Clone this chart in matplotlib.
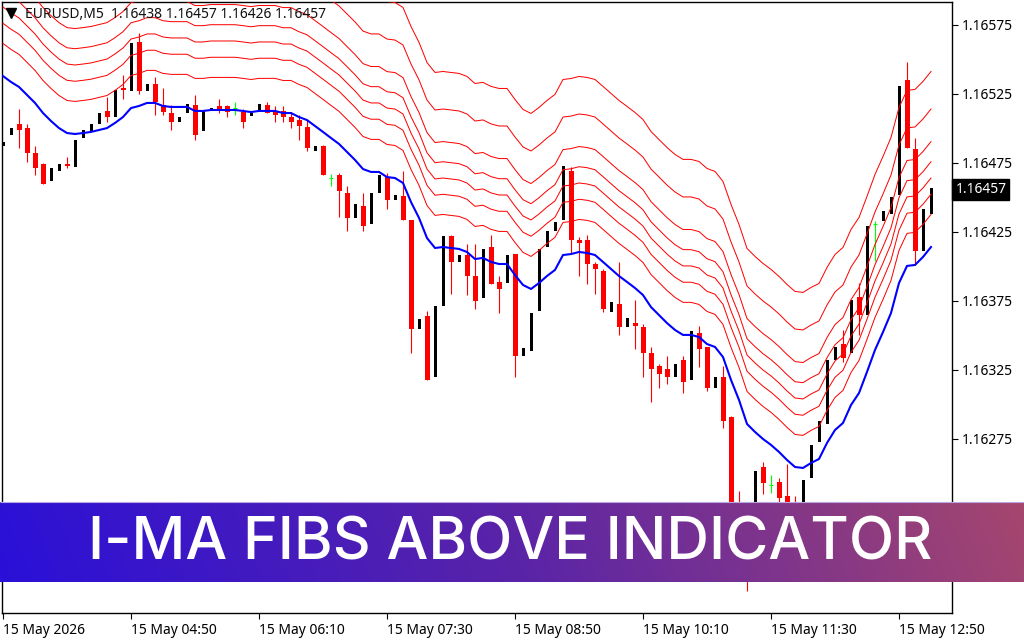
import matplotlib
matplotlib.use('Agg')
import matplotlib.pyplot as plt
from matplotlib.colors import LinearSegmentedColormap
import numpy as np

# all prices are in points above 1.16000 (1 point = 0.00001)
BASE = 1.16

opens = [487,495,503,500,482,474,462,469,474,472,
	493,498,503,513,508,529,527,563,527,532,
	517,511,505,511,517,498,513,516,516,515,
	512,509,513,517,513,513,508,506,501,484,
	487,464,466,453,435,444,431,453,465,448,
	451,434,355,364,320,371,422,403,408,393,
	377,414,389,388,409,335,339,368,414,426,
	434,469,419,419,402,397,367,373,356,359,
	356,337,328,326,320,332,318,352,342,312,
	320,291,225,222,200,255,242,244,234,226,
	215,247,273,286,332,344,337,378,365,431,
	433,438,452,535,485,411,438]
closes = [490,500,499,482,471,460,471,474,473,492,
	499,503,511,508,528,528,562,527,532,519,
	512,505,508,518,495,513,515,513,512,515,
	505,511,518,511,510,508,505,502,486,487,
	466,464,455,435,445,429,453,466,448,452,
	434,355,362,318,371,422,403,408,393,375,
	413,387,384,408,335,341,366,413,426,432,
	473,419,417,402,398,369,374,356,363,357,
	337,326,322,320,329,316,353,340,312,320,
	288,220,185,195,252,243,242,232,215,215,
	245,271,288,332,342,334,376,365,429,431,
	440,450,531,486,411,442,457]
highs = [490,500,514,503,487,475,471,474,479,492,
	499,503,511,523,528,539,562,569,532,537,
	529,517,508,518,524,513,515,521,517,519,
	514,511,518,519,516,516,512,510,506,487,
	488,467,468,458,445,453,453,466,468,452,
	469,434,362,368,371,422,423,408,416,416,
	413,423,393,408,409,341,366,413,426,432,
	473,472,421,423,403,398,374,403,363,376,
	358,342,329,335,329,335,353,357,342,320,
	328,292,237,226,252,258,249,247,257,234,
	245,271,288,332,342,354,376,388,429,433,
	440,450,531,548,493,442,457]
lows = [487,495,486,476,466,460,462,469,471,472,
	493,498,503,505,508,521,527,525,527,510,
	510,499,505,511,492,498,513,511,508,510,
	500,509,513,511,505,505,500,492,484,484,
	466,458,436,426,435,426,431,453,442,448,
	434,337,355,318,320,371,380,403,379,369,
	377,387,366,388,320,335,339,368,414,426,
	434,410,393,387,380,367,367,350,356,340,
	320,302,312,315,320,308,318,327,310,312,
	283,215,180,165,195,235,236,227,210,208,
	215,247,273,286,332,331,337,350,365,404,
	433,438,452,486,401,411,438]

ma_line = [538.0,533.7,530.1,524.3,518.5,511.2,505.4,500.3,496.7,496.0,
	496.7,497.5,498.9,500.3,504.0,508.3,514.8,516.3,518.5,518.5,
	516.3,515.6,515.6,515.6,512.7,512.7,513.4,513.4,513.4,513.4,
	512.7,511.9,512.7,512.7,512.7,511.2,511.2,508.3,506.1,501.8,
	497.5,493.1,488.8,483.0,477.2,470.6,468.5,468.5,464.8,464.1,
	460.5,446.7,435.2,420.6,413.4,414.1,413.4,412.7,410.5,405.4,
	406.2,403.3,401.8,401.8,393.8,386.6,383.7,388.0,393.1,397.5,
	408.3,409.0,410.5,409.8,408.3,403.3,398.2,393.1,388.8,384.4,
	379.3,370.6,364.8,359.0,354.0,350.4,350.4,348.9,343.8,341.7,
	334.4,317.8,303.3,285.9,280.1,275.0,270.7,265.6,259.8,254.7,
	254.0,257.6,260.5,272.1,281.5,286.6,299.6,308.3,323.6,339.5,
	352.5,366.3,388.0,400.4,401.1,406.9,414.1]

fib_1 = [561.6,557.3,553.7,547.9,542.1,534.8,529.0,523.9,520.3,519.6,
	520.3,521.1,522.5,523.9,527.6,531.9,538.4,539.9,542.1,542.1,
	539.9,539.2,539.2,539.2,536.3,536.3,537.0,537.0,537.0,537.0,
	536.3,535.5,536.3,536.3,536.3,534.8,534.8,531.9,529.7,525.4,
	521.1,516.7,512.4,506.6,500.8,494.2,492.1,492.1,488.4,487.7,
	484.1,470.3,458.8,444.2,437.0,437.7,437.0,436.3,434.1,429.0,
	429.8,426.9,425.4,425.4,417.4,410.2,407.3,411.6,416.7,421.1,
	431.9,432.6,434.1,433.4,431.9,426.9,421.8,416.7,412.4,408.0,
	402.9,394.2,388.4,382.6,377.6,374.0,374.0,372.5,367.4,365.3,
	358.0,341.4,326.9,309.5,303.7,298.6,294.3,289.2,283.4,278.3,
	277.6,281.2,284.1,295.7,305.1,310.2,323.2,331.9,347.2,363.1,
	376.1,389.9,411.6,424.0,424.7,430.5,437.7]
fib_2 = [576.2,571.9,568.3,562.5,556.7,549.4,543.6,538.5,534.9,534.2,
	534.9,535.7,537.1,538.5,542.2,546.5,553.0,554.5,556.7,556.7,
	554.5,553.8,553.8,553.8,550.9,550.9,551.6,551.6,551.6,551.6,
	550.9,550.1,550.9,550.9,550.9,549.4,549.4,546.5,544.3,540.0,
	535.7,531.3,527.0,521.2,515.4,508.8,506.7,506.7,503.0,502.3,
	498.7,484.9,473.4,458.8,451.6,452.3,451.6,450.9,448.7,443.6,
	444.4,441.5,440.0,440.0,432.0,424.8,421.9,426.2,431.3,435.7,
	446.5,447.2,448.7,448.0,446.5,441.5,436.4,431.3,427.0,422.6,
	417.5,408.8,403.0,397.2,392.2,388.6,388.6,387.1,382.0,379.9,
	372.6,356.0,341.5,324.1,318.3,313.2,308.9,303.8,298.0,292.9,
	292.2,295.8,298.7,310.3,319.7,324.8,337.8,346.5,361.8,377.7,
	390.7,404.5,426.2,438.6,439.3,445.1,452.3]
fib_3 = [588.0,583.7,580.1,574.3,568.5,561.2,555.4,550.3,546.7,546.0,
	546.7,547.5,548.9,550.3,554.0,558.3,564.8,566.3,568.5,568.5,
	566.3,565.6,565.6,565.6,562.7,562.7,563.4,563.4,563.4,563.4,
	562.7,561.9,562.7,562.7,562.7,561.2,561.2,558.3,556.1,551.8,
	547.5,543.1,538.8,533.0,527.2,520.6,518.5,518.5,514.8,514.1,
	510.5,496.7,485.2,470.6,463.4,464.1,463.4,462.7,460.5,455.4,
	456.2,453.3,451.8,451.8,443.8,436.6,433.7,438.0,443.1,447.5,
	458.3,459.0,460.5,459.8,458.3,453.3,448.2,443.1,438.8,434.4,
	429.3,420.6,414.8,409.0,404.0,400.4,400.4,398.9,393.8,391.7,
	384.4,367.8,353.3,335.9,330.1,325.0,320.7,315.6,309.8,304.7,
	304.0,307.6,310.5,322.1,331.5,336.6,349.6,358.3,373.6,389.5,
	402.5,416.3,438.0,450.4,451.1,456.9,464.1]
fib_4 = [599.8,595.5,591.9,586.1,580.3,573.0,567.2,562.1,558.5,557.8,
	558.5,559.3,560.7,562.1,565.8,570.1,576.6,578.1,580.3,580.3,
	578.1,577.4,577.4,577.4,574.5,574.5,575.2,575.2,575.2,575.2,
	574.5,573.7,574.5,574.5,574.5,573.0,573.0,570.1,567.9,563.6,
	559.3,554.9,550.6,544.8,539.0,532.4,530.3,530.3,526.6,525.9,
	522.3,508.5,497.0,482.4,475.2,475.9,475.2,474.5,472.3,467.2,
	468.0,465.1,463.6,463.6,455.6,448.4,445.5,449.8,454.9,459.3,
	470.1,470.8,472.3,471.6,470.1,465.1,460.0,454.9,450.6,446.2,
	441.1,432.4,426.6,420.8,415.8,412.2,412.2,410.7,405.6,403.5,
	396.2,379.6,365.1,347.7,341.9,336.8,332.5,327.4,321.6,316.5,
	315.8,319.4,322.3,333.9,343.3,348.4,361.4,370.1,385.4,401.3,
	414.3,428.1,449.8,462.2,462.9,468.7,475.9]
fib_5 = [614.4,610.1,606.5,600.7,594.9,587.6,581.8,576.7,573.1,572.4,
	573.1,573.9,575.3,576.7,580.4,584.7,591.2,592.7,594.9,594.9,
	592.7,592.0,592.0,592.0,589.1,589.1,589.8,589.8,589.8,589.8,
	589.1,588.3,589.1,589.1,589.1,587.6,587.6,584.7,582.5,578.2,
	573.9,569.5,565.2,559.4,553.6,547.0,544.9,544.9,541.2,540.5,
	536.9,523.1,511.6,497.0,489.8,490.5,489.8,489.1,486.9,481.8,
	482.6,479.7,478.2,478.2,470.2,463.0,460.1,464.4,469.5,473.9,
	484.7,485.4,486.9,486.2,484.7,479.7,474.6,469.5,465.2,460.8,
	455.7,447.0,441.2,435.4,430.4,426.8,426.8,425.3,420.2,418.1,
	410.8,394.2,379.7,362.3,356.5,351.4,347.1,342.0,336.2,331.1,
	330.4,334.0,336.9,348.5,357.9,363.0,376.0,384.7,400.0,415.9,
	428.9,442.7,464.4,476.8,477.5,483.3,490.5]
# the two top lines are above the window on the left, they start at bar 41 and 48
fib_6 = [593.1,588.8,583.0,577.2,570.6,568.5,568.5,564.8,564.1,
	560.5,546.7,535.2,520.6,513.4,514.1,513.4,512.7,510.5,505.4,
	506.2,503.3,501.8,501.8,493.8,486.6,483.7,488.0,493.1,497.5,
	508.3,509.0,510.5,509.8,508.3,503.3,498.2,493.1,488.8,484.4,
	479.3,470.6,464.8,459.0,454.0,450.4,450.4,448.9,443.8,441.7,
	434.4,417.8,403.3,385.9,380.1,375.0,370.7,365.6,359.8,354.7,
	354.0,357.6,360.5,372.1,381.5,386.6,399.6,408.3,423.6,439.5,
	452.5,466.3,488.0,500.4,501.1,506.9,514.1]
fib_7 = [592.0,591.3,
	587.7,573.9,562.4,547.8,540.6,541.3,540.6,539.9,537.7,532.6,
	533.4,530.5,529.0,529.0,521.0,513.8,510.9,515.2,520.3,524.7,
	535.5,536.2,537.7,537.0,535.5,530.5,525.4,520.3,516.0,511.6,
	506.5,497.8,492.0,486.2,481.2,477.6,477.6,476.1,471.0,468.9,
	461.6,445.0,430.5,413.1,407.3,402.2,397.9,392.8,387.0,381.9,
	381.2,384.8,387.7,399.3,408.7,413.8,426.8,435.5,450.8,466.7,
	479.7,493.5,515.2,527.6,528.3,534.1,541.3]

price_ticks = [175,225,275,325,375,425,475,525,575]
time_ticks = [0,16,32,48,64,80,96,112]
time_labels = ['15 May 2026','15 May 04:50','15 May 06:10','15 May 07:30',
	'15 May 08:50','15 May 10:10','15 May 11:30','15 May 12:50']
header = 'EURUSD,M5  1.16438 1.16457 1.16426 1.16457'
last_price = 457
banner_title = 'I-MA FIBS ABOVE INDICATOR'
banner_colors = ['#2a10d8','#5a24a8','#a5466e']

def px(points):
	return BASE + np.array(points, dtype=float)/1e5

plt.rcParams['font.family'] = ['Noto Sans','DejaVu Sans']

fig = plt.figure(figsize=(10.24,6.4), dpi=100)
ax = fig.add_axes([2/1024, 27/640, 950/1024, 611/640])

x = np.arange(len(opens))
o, h, l, c = px(opens), px(highs), px(lows), px(closes)

# candles
for i in x:
	if opens[i] == closes[i]:
		col = '#00ff00'
	elif closes[i] > opens[i]:
		col = 'black'
	else:
		col = '#ff0000'
	if highs[i] > max(opens[i],closes[i]) or lows[i] < min(opens[i],closes[i]):
		ax.vlines(i, l[i], h[i], color=col, lw=0.8, zorder=2)
	if col == '#00ff00':
		ax.hlines(o[i], i-0.3, i+0.3, color=col, lw=0.8, zorder=2)
	else:
		w = 3/8 if col == 'black' else 5/8
		ax.bar(i, abs(c[i]-o[i]), bottom=min(o[i],c[i]), width=w, color=col, lw=0, zorder=2)

# fib lines + ma
for band in [fib_1,fib_2,fib_3,fib_4,fib_5,fib_6,fib_7]:
	ax.plot(x[-len(band):], px(band), color='#ff0000', lw=0.72, zorder=3)
ax.plot(x, px(ma_line), color='#0000ff', lw=1.5, zorder=4)

ax.set_xlim(-0.125,118.625)
ax.set_ylim(px(148.9),px(591.65))
ax.yaxis.tick_right()
ax.set_yticks(px(price_ticks))
ax.set_yticklabels(['%.5f' % p for p in px(price_ticks)])
ax.set_xticks(time_ticks)
ax.set_xticklabels(time_labels, ha='left')
ax.tick_params(axis='both', length=4.5, width=0.8, labelsize=10, pad=2.5)
for s in ax.spines.values():
	s.set_linewidth(1.0)

ax.text(1.0035, px(last_price), '%.5f' % px(last_price), transform=ax.get_yaxis_transform(),
	color='white', fontsize=10, va='center_baseline', ha='left',
	bbox=dict(facecolor='black', edgecolor='black', pad=2.2), zorder=6, clip_on=False)

# overlay in picture pixels for the header and the banner
top = fig.add_axes([0,0,1,1], zorder=10)
top.set_xlim(0,1024)
top.set_ylim(640,0)
top.axis('off')
top.patch.set_alpha(0)
top.plot([11],[13], marker='v', color='black', ms=7, lw=0)
top.text(25, 14, header, fontsize=10, color='#101010', va='center', ha='left')
cmap = LinearSegmentedColormap.from_list('banner', banner_colors)
# slightly diagonal gradient, redder towards the top
gx, gy = np.meshgrid(np.linspace(0,1,512), np.linspace(0.03,0,40))
top.imshow(np.clip(gx*0.97+gy,0,1), cmap=cmap, vmin=0, vmax=1, extent=(0,1024,581.8,502), aspect='auto', zorder=5)
top.set_xlim(0,1024)
top.set_ylim(640,0)
top.hlines(501.5, 0, 1024, color='#b9a6e0', lw=0.8, zorder=5)
top.text(510, 560, banner_title, color='white', fontsize=42.5, fontweight='medium',
	family=['Inter','DejaVu Sans'], ha='center', va='baseline', zorder=6)

fig.savefig('out.png', dpi=100)
